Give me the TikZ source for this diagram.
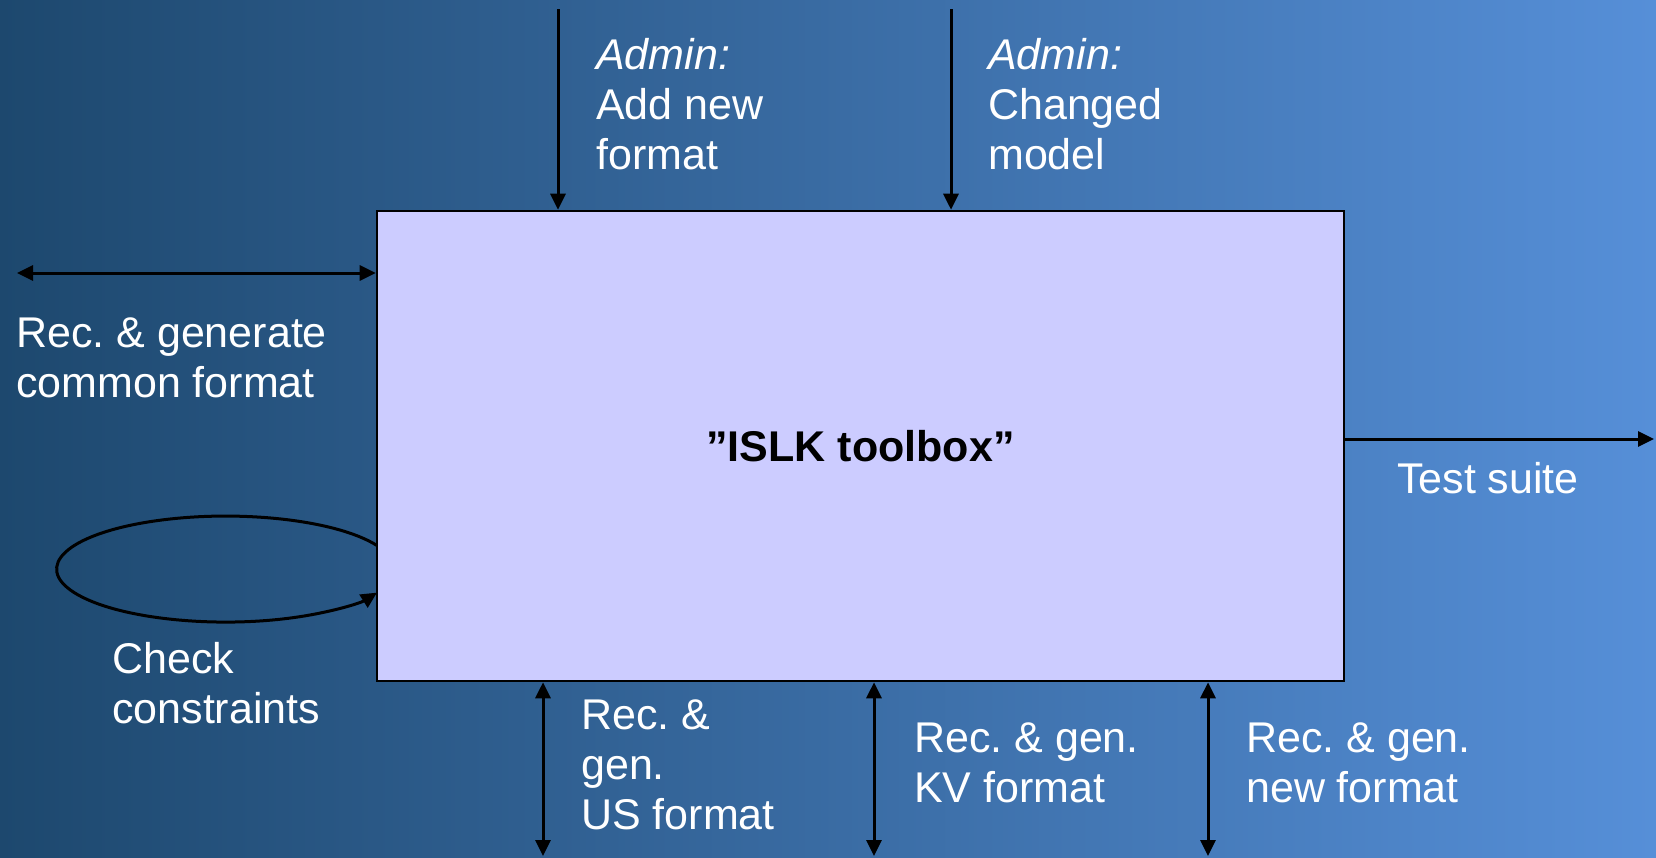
\documentclass[tikz,border=0pt]{standalone}
\usepackage{fontspec}
\setmainfont{Liberation Sans}
\usetikzlibrary{arrows.meta}
\definecolor{bgleft}{RGB}{29,72,110}
\definecolor{bgright}{RGB}{86,143,216}
\definecolor{boxfill}{RGB}{204,204,255}
\begin{document}
\frenchspacing
\begin{tikzpicture}[x=1pt,y=-1pt,
  lbl/.style={text=white,anchor=base west,align=left,inner sep=0pt,font=\fontsize{43}{50}\selectfont},
  arr/.style={line width=3pt,-{Triangle[length=16pt,width=15pt]}},
  darr/.style={line width=3pt,{Triangle[length=16pt,width=15pt]}-{Triangle[length=16pt,width=15pt]}}]
\useasboundingbox (0,0) rectangle (1656,857);
\shade[left color=bgleft,right color=bgright] (0,0) rectangle (1656,857);
% self loop (drawn first, box covers it)
\draw[arr] (377,545.5) arc[start angle=-26.4,end angle=-333.6,x radius=169,y radius=53];
\node[draw=black,line width=2.6pt,fill=boxfill,minimum width=967pt,minimum height=470pt,inner sep=0pt,
  font=\fontsize{43}{50}\selectfont\bfseries] (box) at (860.5,446) {”ISLK toolbox”};
% top arrows
\coordinate (t1) at (558,9);
\coordinate (t2) at (951,9);
\draw[arr] (t1) -- (t1 |- box.north);
\draw[arr] (t2) -- (t2 |- box.north);
% left arrow
\coordinate (l1) at (17,273);
\draw[darr] (l1) -- (l1 -| box.west);
% right arrow
\coordinate (r1) at (1654,439);
\draw[arr] (r1 -| box.east) -- (r1);
% bottom arrows
\coordinate (b1) at (543,856);
\coordinate (b2) at (874,856);
\coordinate (b3) at (1208,856);
\draw[darr] (b1 |- box.south) -- (b1);
\draw[darr] (b2 |- box.south) -- (b2);
\draw[darr] (b3 |- box.south) -- (b3);
% labels (anchor = baseline of last line)
\node[lbl] (la1) at (596,169) {\itshape Admin:\\Add new\\format};
\node[lbl] (la2) at (988,169) {\itshape Admin:\\Changed\\model};
\node[lbl] (lrec) at (16,397) {Rec. \& generate\\common format};
\node[lbl] (lchk) at (112,723) {Check\\constraints};
\node[lbl] (lts) at (1397,493) {Test suite};
\node[lbl] (lus) at (581,829) {Rec. \&\\gen.\\US format};
\node[lbl] (lkv) at (914,802) {Rec. \& gen.\\KV format};
\node[lbl] (lnew) at (1246,802) {Rec. \& gen.\\new format};
\end{tikzpicture}
\end{document}
